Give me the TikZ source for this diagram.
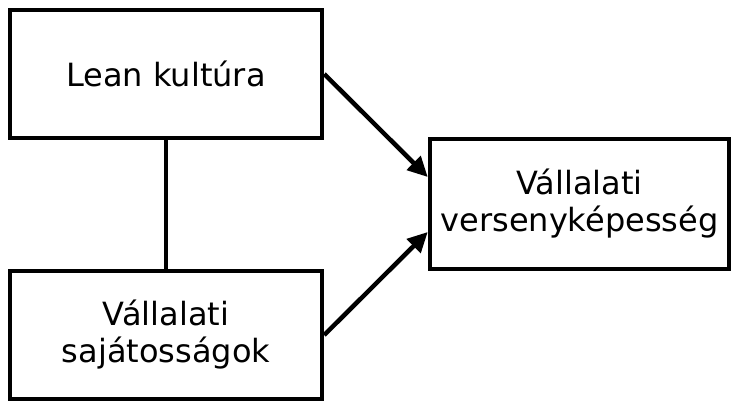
\documentclass[tikz,border=0pt]{standalone}
\usepackage{fontspec}
\setmainfont{DejaVu Sans}
\usetikzlibrary{arrows.meta,positioning}

\begin{document}
\begin{tikzpicture}[x=1pt,y=-1pt,
  doboz/.style={draw,line width=4.5pt,align=center,inner sep=0pt,
    font=\fontsize{32}{37}\selectfont},
  nyil/.style={line width=4.5pt,-{Triangle[length=20pt,width=19pt]}}]
\useasboundingbox (0,0) rectangle (732,402);
% Boxes
\node[doboz,minimum width=312pt,minimum height=128pt] (lean) at (166,74) {Lean kultúra};
\node[doboz,minimum width=312pt,minimum height=128pt] (sajat) at (166,335) {Vállalati\\sajátosságok};
\node[doboz,minimum width=299pt,minimum height=130pt] (verseny) at (579.5,204) {Vállalati\\versenyképesség};
% Connections
\draw[line width=4.5pt] (lean) -- (sajat);
\draw[nyil] (lean.east) -- ([yshift=27pt]verseny.west);
\draw[nyil] (sajat.east) -- ([yshift=-28pt]verseny.west);
\end{tikzpicture}
\end{document}
